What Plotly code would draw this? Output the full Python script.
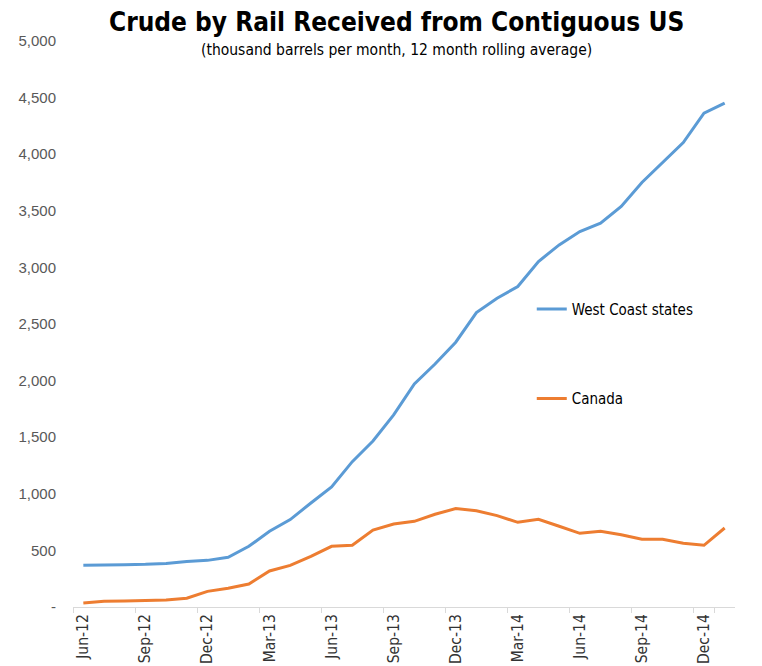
import plotly.graph_objects as go

# ── Data (thousand barrels per month, 12 month rolling average) ──
months = [
    "Jun-12", "Jul-12", "Aug-12", "Sep-12", "Oct-12", "Nov-12", "Dec-12",
    "Jan-13", "Feb-13", "Mar-13", "Apr-13", "May-13", "Jun-13", "Jul-13",
    "Aug-13", "Sep-13", "Oct-13", "Nov-13", "Dec-13", "Jan-14", "Feb-14",
    "Mar-14", "Apr-14", "May-14", "Jun-14", "Jul-14", "Aug-14", "Sep-14",
    "Oct-14", "Nov-14", "Dec-14", "Jan-15",
]

west_coast = [
    368, 368, 374, 377, 385, 401, 412, 439, 536, 669, 772, 919, 1060, 1284,
    1467, 1697, 1971, 2147, 2339, 2601, 2728, 2831, 3052, 3199, 3317, 3390,
    3538, 3750, 3929, 4103, 4362, 4451,
]

canada = [
    35, 50, 53, 59, 62, 77, 138, 165, 203, 318, 368, 448, 536, 545,
    680, 733, 757, 819, 869, 851, 807, 748, 775, 713, 651, 669,
    639, 598, 598, 563, 545, 698,
]

y_ticks = [0, 500, 1000, 1500, 2000, 2500, 3000, 3500, 4000, 4500, 5000]
y_tick_text = ["-"] + [f"{v:,}" for v in y_ticks[1:]]
x_tick_labels = months[::3]

NARROW = "DejaVu Sans Condensed, sans-serif"
REGULAR = "Liberation Sans, Arial, sans-serif"

fig = go.Figure()

fig.add_trace(go.Scatter(
    x=months, y=west_coast, mode="lines", name="West Coast states",
    legendgroup="wc", line=dict(color="#5B9BD5", width=3),
))
fig.add_trace(go.Scatter(
    x=months, y=canada, mode="lines", name="Canada",
    legendgroup="ca", line=dict(color="#ED7D31", width=3),
))

fig.update_xaxes(
    type="category", automargin=False,
    range=[-0.5, len(months) - 0.5],
    tickmode="array", tickvals=x_tick_labels, ticktext=x_tick_labels,
    tickson="boundaries", ticks="outside", ticklen=5, tickcolor="#d9d9d9",
    tickangle=-90,
    showline=True, linecolor="#d9d9d9", linewidth=1,
    showgrid=False, zeroline=False,
    tickfont=dict(family=NARROW, size=15.5, color="#333333"),
)
fig.update_yaxes(
    range=[0, 5000], automargin=False,
    tickmode="array", tickvals=y_ticks, ticktext=y_tick_text,
    showgrid=False, zeroline=False, showline=False, ticks="",
    ticklabelstandoff=16,
    tickfont=dict(family=REGULAR, size=15, color="#595959"),
)

fig.add_annotation(
    text="<b>Crude by Rail Received from Contiguous US</b>",
    xref="paper", yref="paper", x=0.4887, y=1.0336,
    xanchor="center", yanchor="middle", showarrow=False,
    font=dict(family=NARROW, size=26, color="#000000"),
)
fig.add_annotation(
    text="(thousand barrels per month, 12 month rolling average)",
    xref="paper", yref="paper", x=0.4887, y=0.984,
    xanchor="center", yanchor="middle", showarrow=False,
    font=dict(family=NARROW, size=15.5, color="#000000"),
)

fig.update_layout(
    width=762, height=666,
    margin=dict(l=73, r=27, t=41, b=59),
    plot_bgcolor="white", paper_bgcolor="white",
    showlegend=True,
    legend=dict(
        x=0.693, y=0.555, xanchor="left", yanchor="top",
        bgcolor="rgba(0,0,0,0)", tracegroupgap=67,
        font=dict(family=NARROW, size=15, color="#000000"),
    ),
)

# drop the default 8px page margin so the figure sits at the window's corner
fig.write_html(
    "out.html",
    config={"displayModeBar": False},
    post_script="document.body.style.margin='0';",
)
